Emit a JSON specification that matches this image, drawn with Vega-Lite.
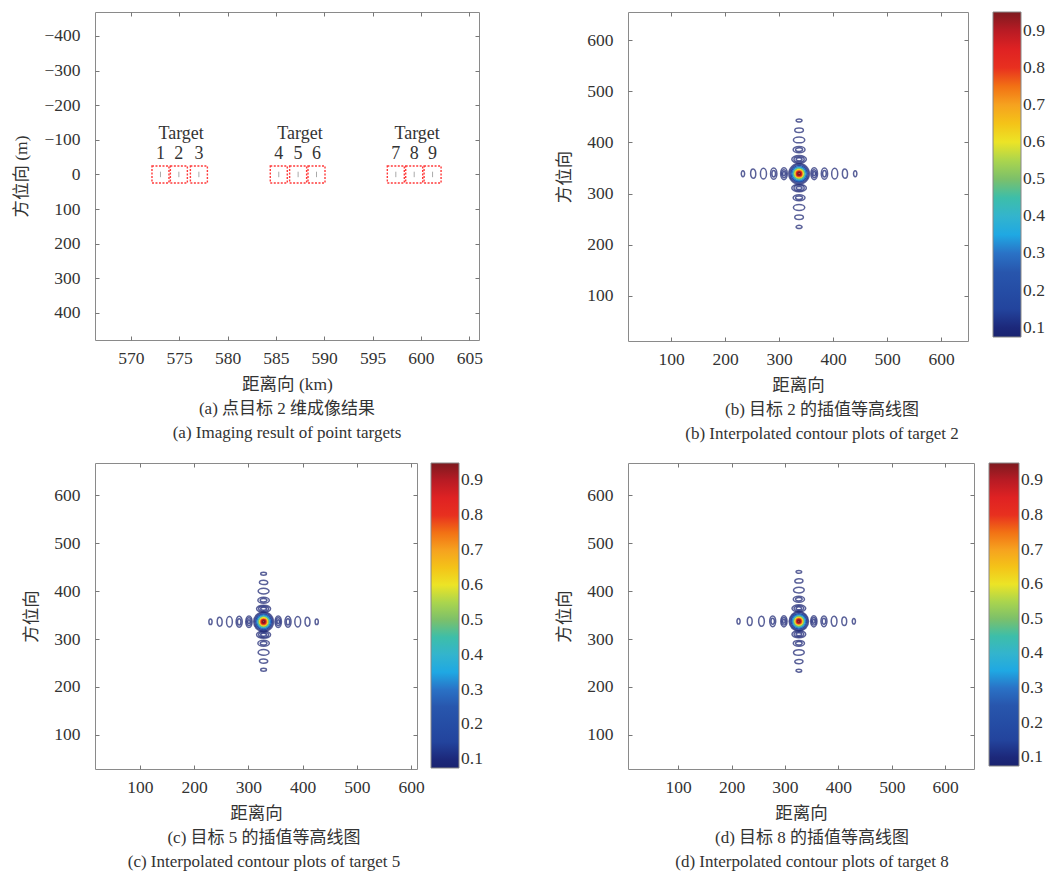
{
"$schema": "https://vega.github.io/schema/vega-lite/v6.json",
"padding": {"left": 12, "top": 11, "right": 0, "bottom": 0},
"background": "white",
"datasets": {
"ta": [{"x":573.07,"y":0,"num":"1"},{"x":574.97,"y":0,"num":"2"},{"x":577.04,"y":0,"num":"3"},{"x":585.3,"y":0,"num":"4"},{"x":587.3,"y":0,"num":"5"},{"x":589.2,"y":0,"num":"6"},{"x":597.4,"y":0,"num":"7"},{"x":599.3,"y":0,"num":"8"},{"x":601.2,"y":0,"num":"9"}],
"tg": [{"x":575.2,"y":0,"label":"Target"},{"x":587.5,"y":0,"label":"Target"},{"x":599.6,"y":0,"label":"Target"}],
"cb": [
{"x":337,"y":367,"l":0.08,"s":"h","w":27},{"x":337,"y":367,"l":0.09,"s":"h","w":19},{"x":337,"y":367,"l":0.1,"s":"h","w":11},
{"x":337,"y":311,"l":0.08,"s":"h","w":27},{"x":337,"y":311,"l":0.09,"s":"h","w":19},{"x":337,"y":311,"l":0.1,"s":"h","w":11},
{"x":337,"y":386,"l":0.08,"s":"h","w":22},{"x":337,"y":386,"l":0.09,"s":"h","w":13},
{"x":337,"y":292,"l":0.08,"s":"h","w":22},{"x":337,"y":292,"l":0.09,"s":"h","w":13},
{"x":337,"y":405,"l":0.08,"s":"h","w":21},{"x":337,"y":273,"l":0.08,"s":"h","w":21},
{"x":337,"y":424,"l":0.08,"s":"h","w":16},{"x":337,"y":254,"l":0.08,"s":"h","w":16},
{"x":337,"y":443,"l":0.08,"s":"h","w":11},{"x":337,"y":235,"l":0.08,"s":"h","w":11},
{"x":309,"y":339,"l":0.08,"s":"v","w":22},{"x":309,"y":339,"l":0.09,"s":"v","w":15},{"x":309,"y":339,"l":0.1,"s":"v","w":8},
{"x":365,"y":339,"l":0.08,"s":"v","w":22},{"x":365,"y":339,"l":0.09,"s":"v","w":15},{"x":365,"y":339,"l":0.1,"s":"v","w":8},
{"x":290,"y":339,"l":0.08,"s":"v","w":21},{"x":290,"y":339,"l":0.09,"s":"v","w":12},
{"x":384,"y":339,"l":0.08,"s":"v","w":21},{"x":384,"y":339,"l":0.09,"s":"v","w":12},
{"x":271,"y":339,"l":0.08,"s":"v","w":20},{"x":403,"y":339,"l":0.08,"s":"v","w":20},
{"x":252,"y":339,"l":0.08,"s":"v","w":17},{"x":422,"y":339,"l":0.08,"s":"v","w":17},
{"x":233,"y":339,"l":0.08,"s":"v","w":11},{"x":441,"y":339,"l":0.08,"s":"v","w":11},
{"x":337,"y":339,"l":0.08,"s":"c","w":38},{"x":337,"y":339,"l":0.1,"s":"c","w":34},{"x":337,"y":339,"l":0.2,"s":"c","w":30},{"x":337,"y":339,"l":0.3,"s":"c","w":26},{"x":337,"y":339,"l":0.4,"s":"c","w":22},{"x":337,"y":339,"l":0.5,"s":"c","w":18.5},{"x":337,"y":339,"l":0.6,"s":"c","w":15},{"x":337,"y":339,"l":0.7,"s":"c","w":12},{"x":337,"y":339,"l":0.8,"s":"c","w":9},{"x":337,"y":339,"l":0.9,"s":"c","w":6.5},{"x":337,"y":339,"l":0.95,"s":"c","w":4}
],
"cc": [
{"x":328,"y":363,"l":0.08,"s":"h","w":27},{"x":328,"y":363,"l":0.09,"s":"h","w":19},{"x":328,"y":363,"l":0.1,"s":"h","w":11},
{"x":328,"y":309,"l":0.08,"s":"h","w":27},{"x":328,"y":309,"l":0.09,"s":"h","w":19},{"x":328,"y":309,"l":0.1,"s":"h","w":11},
{"x":328,"y":381,"l":0.08,"s":"h","w":22},{"x":328,"y":381,"l":0.09,"s":"h","w":13},
{"x":328,"y":291,"l":0.08,"s":"h","w":22},{"x":328,"y":291,"l":0.09,"s":"h","w":13},
{"x":328,"y":400,"l":0.08,"s":"h","w":21},{"x":328,"y":272,"l":0.08,"s":"h","w":21},
{"x":328,"y":418,"l":0.08,"s":"h","w":16},{"x":328,"y":254,"l":0.08,"s":"h","w":16},
{"x":328,"y":436,"l":0.08,"s":"h","w":11},{"x":328,"y":236,"l":0.08,"s":"h","w":11},
{"x":301,"y":336,"l":0.08,"s":"v","w":22},{"x":301,"y":336,"l":0.09,"s":"v","w":15},{"x":301,"y":336,"l":0.1,"s":"v","w":8},
{"x":355,"y":336,"l":0.08,"s":"v","w":22},{"x":355,"y":336,"l":0.09,"s":"v","w":15},{"x":355,"y":336,"l":0.1,"s":"v","w":8},
{"x":283,"y":336,"l":0.08,"s":"v","w":21},{"x":283,"y":336,"l":0.09,"s":"v","w":12},
{"x":373,"y":336,"l":0.08,"s":"v","w":21},{"x":373,"y":336,"l":0.09,"s":"v","w":12},
{"x":265,"y":336,"l":0.08,"s":"v","w":20},{"x":391,"y":336,"l":0.08,"s":"v","w":20},
{"x":247,"y":336,"l":0.08,"s":"v","w":17},{"x":409,"y":336,"l":0.08,"s":"v","w":17},
{"x":230,"y":336,"l":0.08,"s":"v","w":11},{"x":426,"y":336,"l":0.08,"s":"v","w":11},
{"x":328,"y":336,"l":0.08,"s":"c","w":38},{"x":328,"y":336,"l":0.1,"s":"c","w":34},{"x":328,"y":336,"l":0.2,"s":"c","w":30},{"x":328,"y":336,"l":0.3,"s":"c","w":26},{"x":328,"y":336,"l":0.4,"s":"c","w":22},{"x":328,"y":336,"l":0.5,"s":"c","w":18.5},{"x":328,"y":336,"l":0.6,"s":"c","w":15},{"x":328,"y":336,"l":0.7,"s":"c","w":12},{"x":328,"y":336,"l":0.8,"s":"c","w":9},{"x":328,"y":336,"l":0.9,"s":"c","w":6.5},{"x":328,"y":336,"l":0.95,"s":"c","w":4}
],
"cd": [
{"x":326,"y":364,"l":0.08,"s":"h","w":27},{"x":326,"y":364,"l":0.09,"s":"h","w":19},{"x":326,"y":364,"l":0.1,"s":"h","w":11},
{"x":326,"y":310,"l":0.08,"s":"h","w":27},{"x":326,"y":310,"l":0.09,"s":"h","w":19},{"x":326,"y":310,"l":0.1,"s":"h","w":11},
{"x":326,"y":383,"l":0.08,"s":"h","w":22},{"x":326,"y":383,"l":0.09,"s":"h","w":13},
{"x":326,"y":291,"l":0.08,"s":"h","w":22},{"x":326,"y":291,"l":0.09,"s":"h","w":13},
{"x":326,"y":402,"l":0.08,"s":"h","w":21},{"x":326,"y":272,"l":0.08,"s":"h","w":21},
{"x":326,"y":421,"l":0.08,"s":"h","w":16},{"x":326,"y":253,"l":0.08,"s":"h","w":16},
{"x":326,"y":440,"l":0.08,"s":"h","w":11},{"x":326,"y":234,"l":0.08,"s":"h","w":11},
{"x":298,"y":337,"l":0.08,"s":"v","w":22},{"x":298,"y":337,"l":0.09,"s":"v","w":15},{"x":298,"y":337,"l":0.1,"s":"v","w":8},
{"x":354,"y":337,"l":0.08,"s":"v","w":22},{"x":354,"y":337,"l":0.09,"s":"v","w":15},{"x":354,"y":337,"l":0.1,"s":"v","w":8},
{"x":277,"y":337,"l":0.08,"s":"v","w":21},{"x":277,"y":337,"l":0.09,"s":"v","w":12},
{"x":373,"y":337,"l":0.08,"s":"v","w":21},{"x":373,"y":337,"l":0.09,"s":"v","w":12},
{"x":256,"y":337,"l":0.08,"s":"v","w":20},{"x":392,"y":337,"l":0.08,"s":"v","w":20},
{"x":234,"y":337,"l":0.08,"s":"v","w":17},{"x":411,"y":337,"l":0.08,"s":"v","w":17},
{"x":213,"y":337,"l":0.08,"s":"v","w":11},{"x":429,"y":337,"l":0.08,"s":"v","w":11},
{"x":326,"y":337,"l":0.08,"s":"c","w":38},{"x":326,"y":337,"l":0.1,"s":"c","w":34},{"x":326,"y":337,"l":0.2,"s":"c","w":30},{"x":326,"y":337,"l":0.3,"s":"c","w":26},{"x":326,"y":337,"l":0.4,"s":"c","w":22},{"x":326,"y":337,"l":0.5,"s":"c","w":18.5},{"x":326,"y":337,"l":0.6,"s":"c","w":15},{"x":326,"y":337,"l":0.7,"s":"c","w":12},{"x":326,"y":337,"l":0.8,"s":"c","w":9},{"x":326,"y":337,"l":0.9,"s":"c","w":6.5},{"x":326,"y":337,"l":0.95,"s":"c","w":4}
]
},
"columns": 2,
"spacing": {"row": 19, "column": 71},
"resolve": {"scale": {"color": "independent", "size": "independent", "shape": "independent", "opacity": "independent"}, "legend": {"color": "independent"}},
"concat": [
{
 "width": 384, "height": 328,
 "title": {"text": ["(a) 点目标 2 维成像结果", "(a) Imaging result of point targets"], "frame": "group"},
 "layer": [
  {"data": {"name": "ta"},
   "mark": {"type": "point", "shape": "square", "filled": false, "size": 289, "color": "#ff3a3a", "strokeWidth": 1.4, "strokeDash": [2, 1.5], "opacity": 1},
   "encoding": {
    "x": {"field": "x", "type": "quantitative", "scale": {"domain": [566.3, 606], "nice": false, "zero": false}, "axis": {"values": [570,575,580,585,590,595,600,605], "title": "距离向 (km)"}},
    "y": {"field": "y", "type": "quantitative", "scale": {"domain": [-469, 478], "nice": false, "zero": false, "reverse": true}, "axis": {"values": [-400,-300,-200,-100,0,100,200,300,400], "title": "方位向 (m)"}}
   }},
  {"data": {"name": "ta"},
   "mark": {"type": "point", "shape": "M0,-1L0,1", "filled": false, "size": 30, "color": "#aaaaaa", "strokeWidth": 1, "opacity": 1},
   "encoding": {"x": {"field": "x", "type": "quantitative", "axis": null}, "y": {"field": "y", "type": "quantitative", "axis": null}}},
  {"data": {"name": "ta"},
   "mark": {"type": "text", "dy": -20, "fontSize": 18, "color": "#333333"},
   "encoding": {"x": {"field": "x", "type": "quantitative", "axis": null}, "y": {"field": "y", "type": "quantitative", "axis": null}, "text": {"field": "num"}}},
  {"data": {"name": "tg"},
   "mark": {"type": "text", "dy": -40, "fontSize": 18, "color": "#333333"},
   "encoding": {"x": {"field": "x", "type": "quantitative", "axis": null}, "y": {"field": "y", "type": "quantitative", "axis": null}, "text": {"field": "label"}}},
  {"data": {"name": "ta"},
   "mark": {"type": "point", "opacity": 0},
   "encoding": {
    "x": {"field": "x", "type": "quantitative", "axis": {"orient": "top", "labels": false, "title": null, "values": [570,575,580,585,590,595,600,605]}},
    "y": {"field": "y", "type": "quantitative", "axis": {"orient": "right", "labels": false, "title": null, "values": [-400,-300,-200,-100,0,100,200,300,400]}}
   }}
 ],
 "resolve": {"axis": {"x": "independent", "y": "independent"}}
},
{
 "width": 340, "height": 329,
 "title": {"text": ["(b) 目标 2 的插值等高线图", "(b) Interpolated contour plots of target 2"], "frame": "group", "dx": 24},
 "layer": [
  {"data": {"name": "cb"},
   "mark": {"type": "point", "filled": false, "strokeWidth": 1.5, "opacity": 1},
   "encoding": {
    "x": {"field": "x", "type": "quantitative", "scale": {"domain": [20, 650], "nice": false, "zero": false}, "axis": {"values": [100,200,300,400,500,600], "title": "距离向"}},
    "y": {"field": "y", "type": "quantitative", "scale": {"domain": [12, 655], "nice": false, "zero": false}, "axis": {"values": [100,200,300,400,500,600], "title": "方位向"}},
    "color": {"field": "l", "type": "quantitative",
      "scale": {"domain": [0.075,0.13,0.135,0.28,0.3,0.35,0.42,0.5,0.6,0.7,0.8,0.87,0.95], "range": ["#1a2370","#1d2f86","#22419a","#2a5cb2","#2a72c6","#1fa8e3","#46b8c4","#7cc06a","#ece426","#f6a21f","#e8301f","#dc1c24","#7e1a1f"], "clamp": true},
      "legend": {"offset": 24, "gradientLength": 325, "gradientThickness": 28, "values": [0.1,0.2,0.3,0.4,0.5,0.6,0.7,0.8,0.9]}},
    "strokeOpacity": {"field": "l", "type": "quantitative", "scale": {"domain": [0.08, 0.2], "range": [0.72, 1], "clamp": true}, "legend": null},
    "shape": {"field": "s", "type": "nominal", "scale": {"domain": ["c","h","v"], "range": ["M-1,0A1,1 0 1,1 1,0A1,1 0 1,1 -1,0Z", "M-1,0A1,0.52 0 1,1 1,0A1,0.52 0 1,1 -1,0Z", "M0,-1A0.56,1 0 1,1 0,1A0.56,1 0 1,1 0,-1Z"]}, "legend": null},
    "size": {"field": "w", "type": "quantitative", "scale": {"type": "pow", "exponent": 2, "domain": [0, 50], "range": [0, 729]}, "legend": null}
   }},
  {"data": {"name": "cb"},
   "mark": {"type": "point", "opacity": 0},
   "encoding": {
    "x": {"field": "x", "type": "quantitative", "axis": {"orient": "top", "labels": false, "title": null, "values": [100,200,300,400,500,600]}},
    "y": {"field": "y", "type": "quantitative", "axis": {"orient": "right", "labels": false, "title": null, "values": [100,200,300,400,500,600]}}
   }}
 ],
 "resolve": {"axis": {"x": "independent", "y": "independent"}}
},
{
 "width": 322, "height": 306,
 "title": {"text": ["(c) 目标 5 的插值等高线图", "(c) Interpolated contour plots of target 5"], "frame": "group", "dx": 8},
 "layer": [
  {"data": {"name": "cc"},
   "mark": {"type": "point", "filled": false, "strokeWidth": 1.5, "opacity": 1},
   "encoding": {
    "x": {"field": "x", "type": "quantitative", "scale": {"domain": [17, 611], "nice": false, "zero": false}, "axis": {"values": [100,200,300,400,500,600], "title": "距离向"}},
    "y": {"field": "y", "type": "quantitative", "scale": {"domain": [29, 667], "nice": false, "zero": false}, "axis": {"values": [100,200,300,400,500,600], "title": "方位向"}},
    "color": {"field": "l", "type": "quantitative",
      "scale": {"domain": [0.075,0.13,0.135,0.28,0.3,0.35,0.42,0.5,0.6,0.7,0.8,0.87,0.95], "range": ["#1a2370","#1d2f86","#22419a","#2a5cb2","#2a72c6","#1fa8e3","#46b8c4","#7cc06a","#ece426","#f6a21f","#e8301f","#dc1c24","#7e1a1f"], "clamp": true},
      "legend": {"offset": 13, "gradientLength": 305, "gradientThickness": 28, "values": [0.1,0.2,0.3,0.4,0.5,0.6,0.7,0.8,0.9]}},
    "strokeOpacity": {"field": "l", "type": "quantitative", "scale": {"domain": [0.08, 0.2], "range": [0.72, 1], "clamp": true}, "legend": null},
    "shape": {"field": "s", "type": "nominal", "scale": {"domain": ["c","h","v"], "range": ["M-1,0A1,1 0 1,1 1,0A1,1 0 1,1 -1,0Z", "M-1,0A1,0.52 0 1,1 1,0A1,0.52 0 1,1 -1,0Z", "M0,-1A0.56,1 0 1,1 0,1A0.56,1 0 1,1 0,-1Z"]}, "legend": null},
    "size": {"field": "w", "type": "quantitative", "scale": {"type": "pow", "exponent": 2, "domain": [0, 50], "range": [0, 676]}, "legend": null}
   }},
  {"data": {"name": "cc"},
   "mark": {"type": "point", "opacity": 0},
   "encoding": {
    "x": {"field": "x", "type": "quantitative", "axis": {"orient": "top", "labels": false, "title": null, "values": [100,200,300,400,500,600]}},
    "y": {"field": "y", "type": "quantitative", "axis": {"orient": "right", "labels": false, "title": null, "values": [100,200,300,400,500,600]}}
   }}
 ],
 "resolve": {"axis": {"x": "independent", "y": "independent"}}
},
{
 "width": 346, "height": 306,
 "title": {"text": ["(d) 目标 8 的插值等高线图", "(d) Interpolated contour plots of target 8"], "frame": "group", "dx": 11},
 "layer": [
  {"data": {"name": "cd"},
   "mark": {"type": "point", "filled": false, "strokeWidth": 1.5, "opacity": 1},
   "encoding": {
    "x": {"field": "x", "type": "quantitative", "scale": {"domain": [6, 654], "nice": false, "zero": false}, "axis": {"values": [100,200,300,400,500,600], "title": "距离向"}},
    "y": {"field": "y", "type": "quantitative", "scale": {"domain": [29, 667], "nice": false, "zero": false}, "axis": {"values": [100,200,300,400,500,600], "title": "方位向"}},
    "color": {"field": "l", "type": "quantitative",
      "scale": {"domain": [0.075,0.13,0.135,0.28,0.3,0.35,0.42,0.5,0.6,0.7,0.8,0.87,0.95], "range": ["#1a2370","#1d2f86","#22419a","#2a5cb2","#2a72c6","#1fa8e3","#46b8c4","#7cc06a","#ece426","#f6a21f","#e8301f","#dc1c24","#7e1a1f"], "clamp": true},
      "legend": {"offset": 14, "gradientLength": 303, "gradientThickness": 30, "values": [0.1,0.2,0.3,0.4,0.5,0.6,0.7,0.8,0.9]}},
    "strokeOpacity": {"field": "l", "type": "quantitative", "scale": {"domain": [0.08, 0.2], "range": [0.72, 1], "clamp": true}, "legend": null},
    "shape": {"field": "s", "type": "nominal", "scale": {"domain": ["c","h","v"], "range": ["M-1,0A1,1 0 1,1 1,0A1,1 0 1,1 -1,0Z", "M-1,0A1,0.52 0 1,1 1,0A1,0.52 0 1,1 -1,0Z", "M0,-1A0.56,1 0 1,1 0,1A0.56,1 0 1,1 0,-1Z"]}, "legend": null},
    "size": {"field": "w", "type": "quantitative", "scale": {"type": "pow", "exponent": 2, "domain": [0, 50], "range": [0, 650]}, "legend": null}
   }},
  {"data": {"name": "cd"},
   "mark": {"type": "point", "opacity": 0},
   "encoding": {
    "x": {"field": "x", "type": "quantitative", "axis": {"orient": "top", "labels": false, "title": null, "values": [100,200,300,400,500,600]}},
    "y": {"field": "y", "type": "quantitative", "axis": {"orient": "right", "labels": false, "title": null, "values": [100,200,300,400,500,600]}}
   }}
 ],
 "resolve": {"axis": {"x": "independent", "y": "independent"}}
}
],
"config": {
 "font": "Liberation Serif, Noto Sans CJK SC",
 "view": {"stroke": "#8a8a8a", "strokeWidth": 1},
 "axis": {"labelFont": "Liberation Serif, Noto Sans CJK SC", "labelFontSize": 17.5, "labelColor": "#333333", "titleFont": "Liberation Serif, Noto Sans CJK SC", "titleFontSize": 17.5, "titleFontWeight": "normal", "titleColor": "#333333", "tickSize": -4, "tickColor": "#777777", "domain": false, "grid": false, "labelFlush": false, "labelOverlap": false},
 "axisX": {"labelPadding": 13, "titlePadding": 9},
 "axisY": {"labelPadding": 19, "titlePadding": 13},
 "legend": {"labelFont": "Liberation Serif, Noto Sans CJK SC", "labelFontSize": 17.5, "labelColor": "#333333", "title": null, "labelOffset": 12, "gradientStrokeColor": "#888888", "gradientStrokeWidth": 1, "labelOverlap": false, "padding": 0, "format": ".1f", "direction": "vertical", "orient": "right"},
 "title": {"font": "Liberation Serif, Noto Sans CJK SC", "fontSize": 17, "fontWeight": "normal", "color": "#333333", "orient": "bottom", "anchor": "middle", "offset": 8, "lineHeight": 24},
 "text": {"font": "Liberation Serif, Noto Sans CJK SC"}
}
}
